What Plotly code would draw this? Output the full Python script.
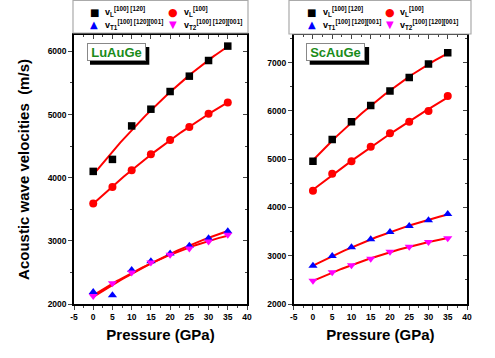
import numpy as np
import plotly.graph_objects as go

pressure = [0, 5, 10, 15, 20, 25, 30, 35]

# LuAuGe
lu_vl_100_120 = [4100, 4290, 4820, 5085, 5365, 5608, 5856, 6084]
lu_vl_100 = [3592, 3852, 4120, 4370, 4598, 4805, 5011, 5190]
lu_vt1 = [2190, 2138, 2540, 2678, 2798, 2921, 3043, 3154]
lu_vt2 = [2127, 2328, 2497, 2656, 2778, 2878, 2989, 3095]

# ScAuGe
sc_vl_100_120 = [4954, 5405, 5773, 6112, 6410, 6688, 6971, 7200]
sc_vl_100 = [4345, 4699, 4954, 5254, 5536, 5773, 5994, 6306]
sc_vt1 = [2792, 2994, 3175, 3341, 3493, 3617, 3736, 3861]
sc_vt2 = [2480, 2655, 2800, 2938, 3083, 3187, 3285, 3362]

x_ticks = [-5, 0, 5, 10, 15, 20, 25, 30, 35, 40]
x_ticktext = ["-5", "0", "5", "10", "15", "20", "25", "30", "35", "40"]

names = ["v<sub>L</sub><sup>[100] [120]</sup>",
         "v<sub>L</sub><sup>[100]</sup>",
         "v<sub>T1</sub><sup>[100] [120][001]</sup>",
         "v<sub>T2</sub><sup>[100] [120][001]</sup>"]
symbols = ["square", "circle", "triangle-up", "triangle-down"]
marker_sizes = [7.5, 8, 8, 8]
glyphs = ["\u25A0", "\u25CF", "\u25B2", "\u25BC"]
glyph_sizes = [10, 11, 10, 10]
colors = ["#000000", "#FF0000", "#0000FF", "#FF00FF"]

FONT = "Arial, Liberation Sans, sans-serif"
W, H = 495, 358
fig = go.Figure()

panels = [
    dict(label="LuAuGe", series=[lu_vl_100_120, lu_vl_100, lu_vt1, lu_vt2],
         xa="x", ya="y", yr=[2000, 6260], dom=[74/W, 247/W],
         leg_box=[73, 248, 0.5, 33], leg_cols=[94, 172.7], leg_text=[103, 181.5]),
    dict(label="ScAuGe", series=[sc_vl_100_120, sc_vl_100, sc_vt1, sc_vt2],
         xa="x2", ya="y2", yr=[2000, 7570], dom=[293.7/W, 467/W],
         leg_box=[289, 471, 0.5, 34], leg_cols=[311.7, 390], leg_text=[320.5, 398.3]),
]
leg_rows = [12.3, 25]

xs = np.linspace(0, 35, 80)
for p in panels:
    for s in p["series"]:
        c = np.polyfit(pressure, s, 2)
        fig.add_trace(go.Scatter(x=xs, y=np.polyval(c, xs), mode="lines",
                                 line=dict(color="#FF0000", width=2),
                                 xaxis=p["xa"], yaxis=p["ya"], showlegend=False,
                                 hoverinfo="skip"))
    for s, n, sym, col, ms in zip(p["series"], names, symbols, colors, marker_sizes):
        fig.add_trace(go.Scatter(x=pressure, y=s, mode="markers", name=n,
                                 marker=dict(symbol=sym, color=col, size=ms),
                                 xaxis=p["xa"], yaxis=p["ya"], showlegend=False))

dom_y = [54/H, 323/H]
tickfont = dict(family=FONT, size=8.5, color="black", weight="bold")
titlefont = dict(family=FONT, size=15, color="black", weight="bold")

layout = dict(width=W, height=H, margin=dict(l=0, r=0, t=0, b=0), showlegend=False,
              paper_bgcolor="white", plot_bgcolor="white", font=dict(family=FONT))

for i, p in enumerate(panels):
    k = "" if i == 0 else "2"
    ko = str(3 + 2*i)
    ko2 = str(4 + 2*i)
    xr = [-5, 40]
    layout["xaxis" + k] = dict(domain=p["dom"], range=xr, anchor="y" + k, automargin=False,
                               tickmode="array", tickvals=x_ticks, ticktext=x_ticktext,
                               ticks="outside", ticklen=4, tickwidth=1.2,
                               showline=True, linecolor="black", linewidth=1.5,
                               showgrid=False, zeroline=False, tickfont=tickfont,
                               minor=dict(ticks="outside", ticklen=2, dtick=2.5, tick0=0),
                               title=dict(text="Pressure (GPa)", font=titlefont, standoff=9))
    layout["yaxis" + k] = dict(domain=dom_y, range=p["yr"], anchor="x" + k, automargin=False,
                               dtick=1000, ticks="outside", ticklen=4, tickwidth=1.2,
                               showline=True, linecolor="black", linewidth=1.5,
                               showgrid=False, zeroline=False, tickfont=tickfont,
                               minor=dict(ticks="outside", ticklen=2, dtick=500))
    layout["xaxis" + ko] = dict(domain=p["dom"], range=xr, overlaying="x" + k, side="top",
                                anchor="y" + k, automargin=False,
                                tickmode="array", tickvals=x_ticks, ticks="inside", ticklen=4,
                                showticklabels=False, showline=True, linecolor="black",
                                linewidth=1.5, showgrid=False, zeroline=False,
                                minor=dict(ticks="inside", ticklen=2, dtick=2.5, tick0=0))
    layout["yaxis" + ko2] = dict(domain=dom_y, range=p["yr"], overlaying="y" + k, side="right",
                                 anchor="x" + k, automargin=False, dtick=1000, ticks="inside",
                                 ticklen=4, showticklabels=False, showline=True,
                                 linecolor="black", linewidth=1.5, showgrid=False,
                                 zeroline=False, minor=dict(ticks="inside", ticklen=2, dtick=500))

layout["yaxis"]["title"] = dict(text="Acoustic wave velocities  (m/s)", font=titlefont, standoff=14)

fig.update_layout(**layout)

# dummy traces so overlay axes get drawn
for i in range(2):
    ko = str(3 + 2*i)
    ko2 = str(4 + 2*i)
    fig.add_trace(go.Scatter(x=[None], y=[None], xaxis="x" + ko, yaxis="y" + ko2,
                             showlegend=False, hoverinfo="skip"))

shapes = []
annotations = []
legfont = dict(family=FONT, size=9, color="black", weight="bold")
for i, p in enumerate(panels):
    k = "" if i == 0 else "2"
    xref = "x" + k + " domain"
    yref = "y" + k + " domain"
    # label shadow and box
    shapes.append(dict(type="rect", xref=xref, yref=yref, x0=(90-74)/173, x1=(149.3-74)/173,
                       y0=(304-64.7)/269, y1=(304-47)/269, fillcolor="black", line=dict(width=0),
                       layer="above"))
    annotations.append(dict(text=p["label"], xref=xref, yref=yref, x=(86.7-74)/173,
                            y=(304-43.3)/269, xanchor="left", yanchor="top", showarrow=False,
                            font=dict(family=FONT, size=13, color="#1A8C1A", weight="bold"),
                            bgcolor="white", bordercolor="#888888", borderwidth=1, borderpad=2,
                            width=53, height=12))
    # legend box
    bx0, bx1, by0, by1 = p["leg_box"]
    shapes.append(dict(type="rect", xref="paper", yref="paper", x0=bx0/W, x1=bx1/W,
                       y0=1 - by1/H, y1=1 - by0/H, line=dict(color="#AAAAAA", width=1.2),
                       fillcolor="white"))
    for j in range(4):
        col = j % 2
        row = j // 2
        annotations.append(dict(text=glyphs[j], xref="paper", yref="paper",
                                x=p["leg_cols"][col]/W, y=1 - leg_rows[row]/H,
                                xanchor="center", yanchor="middle", showarrow=False,
                                font=dict(family="DejaVu Sans", size=glyph_sizes[j], color=colors[j])))
        annotations.append(dict(text=names[j], xref="paper", yref="paper",
                                x=p["leg_text"][col]/W, y=1 - (leg_rows[row] - 0.5)/H,
                                xanchor="left", yanchor="middle", showarrow=False,
                                font=legfont))
fig.update_layout(shapes=shapes, annotations=annotations)
fig.write_html("out.html", config={"displayModeBar": False},
               post_script="document.body.style.margin='0';document.body.style.overflow='hidden';")
